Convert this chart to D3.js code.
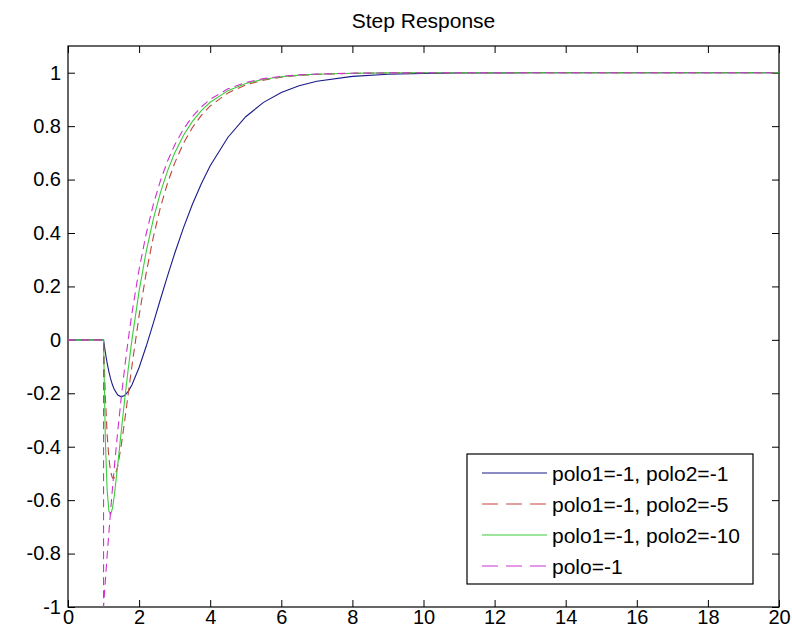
<!DOCTYPE html>
<html>
<head>
<meta charset="utf-8">
<script src="https://cdn.jsdelivr.net/npm/d3@7"></script>
<style>
  html, body { margin: 0; padding: 0; background: #fff; }
  svg { display: block; }
  text { font-family: "Liberation Sans", Arial, sans-serif; fill: #000; }
</style>
</head>
<body>
<svg id="chart" width="792" height="633"></svg>
<script>
// Time axis (s) shared by all four step responses
const time = [0, 1, 1, 1.05, 1.1, 1.15, 1.2, 1.25, 1.3, 1.4, 1.5, 1.6, 1.7, 1.8,
  2.0, 2.2, 2.4, 2.6, 2.8, 3.0, 3.25, 3.5, 3.75, 4.0, 4.5, 5.0, 5.5, 6.0, 6.5, 7.0,
  8, 9, 10, 11, 13, 15, 17, 20];

const p1p2_1 = [0, 0, 0, -0.0464, -0.0858, -0.1189, -0.1462, -0.1682, -0.1853,
  -0.2066, -0.2131, -0.2074, -0.1918, -0.1683, -0.1036, -0.0241, 0.0629, 0.1520,
  0.2396, 0.3233, 0.4203, 0.5075, 0.5845, 0.6515, 0.7584, 0.8352, 0.8889, 0.9259,
  0.9510, 0.9678, 0.9863, 0.9943, 0.9977, 0.9990, 0.9998, 1, 1, 1];

const p1p2_5 = [0, 0, 0, -0.2099, -0.3523, -0.4432, -0.4950, -0.5172, -0.5173,
  -0.4728, -0.3932, -0.2974, -0.1962, -0.0958, 0.0904, 0.2507, 0.3849, 0.4958,
  0.5869, 0.6617, 0.7365, 0.7948, 0.8402, 0.8755, 0.9245, 0.9542, 0.9722, 0.9832,
  0.9898, 0.9938, 0.9977, 0.9992, 0.9997, 0.9999, 1, 1, 1, 1];

const p1p2_10 = [0, 0, 0, -0.3725, -0.5611, -0.6400, -0.6540, -0.6303, -0.5854,
  -0.4672, -0.3396, -0.2166, -0.1024, 0.0019, 0.1826, 0.3307, 0.4520, 0.5513,
  0.6327, 0.6993, 0.7658, 0.8176, 0.8579, 0.8894, 0.9329, 0.9593, 0.9753, 0.9850,
  0.9909, 0.9945, 0.9980, 0.9993, 0.9997, 0.9999, 1, 1, 1, 1];

const p_1 = [0, 0, -1, -0.9025, -0.8097, -0.7214, -0.6375, -0.5576, -0.4816,
  -0.3406, -0.2131, -0.0976, 0.0068, 0.1013, 0.2642, 0.3976, 0.5068, 0.5962,
  0.6694, 0.7293, 0.7892, 0.8358, 0.8721, 0.9004, 0.9396, 0.9634, 0.9778, 0.9865,
  0.9918, 0.9950, 0.9982, 0.9993, 0.9998, 0.9999, 1, 1, 1, 1];

const seriesNames = ["polo1=-1, polo2=-1", "polo1=-1, polo2=-5", "polo1=-1, polo2=-10", "polo=-1"];
const seriesValues = [p1p2_1, p1p2_5, p1p2_10, p_1];

const xTicks = [0, 2, 4, 6, 8, 10, 12, 14, 16, 18, 20];
const yTicks = [-1, -0.8, -0.6, -0.4, -0.2, 0, 0.2, 0.4, 0.6, 0.8, 1];
const titleText = "Step Response";

// Styling
const colors = ["#1a1a8a", "#c0443a", "#3ccc3c", "#d030d0"];
const dashes = [null, "8,5", null, "8,5"];
const legendDashes = [null, "16,8", null, "16,8"];

const margin = { left: 68, top: 46, right: 13, bottom: 26 };
const W = 792, H = 633;
const iw = W - margin.left - margin.right;
const ih = H - margin.top - margin.bottom;

const svg = d3.select("#chart");
svg.append("rect").attr("width", W).attr("height", H).attr("fill", "#fff");

const x = d3.scaleLinear().domain([0, 20]).range([margin.left, margin.left + iw]);
const y = d3.scaleLinear().domain([-1, 1.1]).range([margin.top + ih, margin.top]);

const fmt = d => String(+d.toFixed(1));
const tick = 7;

// Axes with inward ticks on all four sides
const gx = svg.append("g").attr("transform", `translate(0,${margin.top + ih})`)
  .call(d3.axisBottom(x).tickValues(xTicks).tickFormat(fmt).tickSizeInner(-tick).tickSizeOuter(0).tickPadding(3));
const gy = svg.append("g").attr("transform", `translate(${margin.left},0)`)
  .call(d3.axisLeft(y).tickValues(yTicks).tickFormat(fmt).tickSizeInner(-tick).tickSizeOuter(0).tickPadding(7));
const gt = svg.append("g").attr("transform", `translate(0,${margin.top})`)
  .call(d3.axisTop(x).tickValues(xTicks).tickFormat("").tickSizeInner(-tick).tickSizeOuter(0));
const gr = svg.append("g").attr("transform", `translate(${margin.left + iw},0)`)
  .call(d3.axisRight(y).tickValues(yTicks).tickFormat("").tickSizeInner(-tick).tickSizeOuter(0));

[gx, gy, gt, gr].forEach(g => {
  g.selectAll(".domain").remove();
  g.selectAll("line").attr("stroke", "#000").attr("stroke-width", 1);
  g.selectAll("text").attr("font-size", 20).attr("font-family", '"Liberation Sans", Arial, sans-serif').attr("fill", "#000");
});

// Frame
svg.append("rect")
  .attr("x", margin.left).attr("y", margin.top)
  .attr("width", iw).attr("height", ih)
  .attr("fill", "none").attr("stroke", "#000").attr("stroke-width", 1.2);

// Curves
const line = d3.line().x((d, i) => x(time[i])).y(d => y(d));
const plot = svg.append("g");
seriesValues.forEach((vals, k) => {
  plot.append("path")
    .attr("d", line(vals))
    .attr("fill", "none")
    .attr("stroke", colors[k])
    .attr("stroke-width", 1.1)
    .attr("stroke-dasharray", dashes[k]);
});

// Title
svg.append("text")
  .attr("x", margin.left + iw / 2).attr("y", 28)
  .attr("text-anchor", "middle").attr("font-size", 21)
  .text(titleText);

// Legend
const lg = svg.append("g");
const lx = 467, ly = 454, lw = 286, lh = 130, rowH = 31;
lg.append("rect").attr("x", lx).attr("y", ly).attr("width", lw).attr("height", lh)
  .attr("fill", "#fff").attr("stroke", "#000").attr("stroke-width", 1.2);
seriesNames.forEach((name, k) => {
  const cy = ly + 19 + k * rowH;
  lg.append("line").attr("x1", lx + 15).attr("x2", lx + 80).attr("y1", cy).attr("y2", cy)
    .attr("stroke", colors[k]).attr("stroke-width", 1.1).attr("stroke-dasharray", legendDashes[k]);
  lg.append("text").attr("x", lx + 85).attr("y", cy + 7.5).attr("font-size", 21).text(name);
});
</script>
</body>
</html>
